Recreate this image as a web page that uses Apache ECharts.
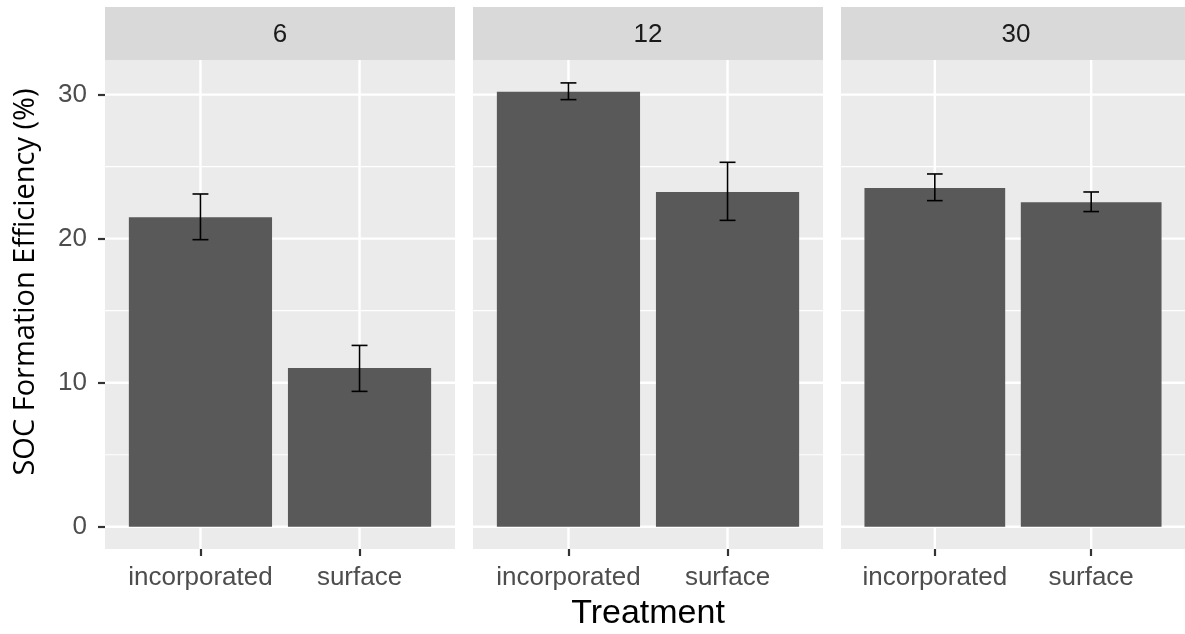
<!DOCTYPE html>
<html>
<head>
<meta charset="utf-8">
<script src="https://cdn.jsdelivr.net/npm/echarts@6/dist/echarts.min.js"></script>
<style>
html,body{margin:0;padding:0;background:#ffffff;}
#chart{width:1185px;height:634px;}
</style>
</head>
<body>
<div id="chart"></div>
<script>
// ---- data ----
const panels = ['6', '12', '30'];
const treatments = ['incorporated', 'surface'];
const meanValues = [[21.48, 11.02], [30.19, 23.24], [23.52, 22.52]];
const errLow = [[19.93, 9.40], [29.65, 21.27], [22.64, 21.88]];
const errHigh = [[23.10, 12.59], [30.81, 25.30], [24.49, 23.24]];
const yTicks = [0, 10, 20, 30];
const yMinorTicks = [5, 15, 25];
const xAxisTitle = 'Treatment';
const yAxisTitle = 'SOC Formation Efficiency (%)';

// ---- layout ----
const panelLefts = [105, 473, 841];
const panelWidth = 350;
const panelTop = 60;
const panelHeight = 489;
const stripTop = 7;
const stripHeight = 53;
const X_MIN = 0.4, X_MAX = 2.6;
const Y_MIN = -1.54, Y_MAX = 32.4;
const xPositions = treatments.map((t, i) => i + 1);

const chart = echarts.init(document.getElementById('chart'), null, {renderer: 'canvas'});

const grids = panelLefts.map(l => ({
  left: l, top: panelTop, width: panelWidth, height: panelHeight,
  show: true, backgroundColor: '#EBEBEB', borderWidth: 0
}));

const xAxes = panelLefts.map((l, i) => ({
  type: 'value', gridIndex: i, min: X_MIN, max: X_MAX, position: 'bottom',
  axisLine: {show: false, onZero: false},
  splitLine: {show: false},
  axisTick: {show: true, customValues: xPositions, length: 7, lineStyle: {color: '#333333', width: 2.2}},
  axisLabel: {
    customValues: xPositions,
    formatter: v => treatments[Math.round(v) - 1] || '',
    color: '#4D4D4D', fontSize: 26, fontFamily: 'Liberation Sans', margin: 16
  }
}));

const yAxes = panelLefts.map((l, i) => ({
  type: 'value', gridIndex: i, min: Y_MIN, max: Y_MAX,
  axisLine: {show: false, onZero: false},
  splitLine: {show: false},
  axisTick: {show: i === 0, customValues: yTicks, length: 7, lineStyle: {color: '#333333', width: 2.2}},
  axisLabel: {
    show: i === 0, customValues: yTicks,
    color: '#4D4D4D', fontSize: 26, fontFamily: 'Liberation Sans', margin: 18
  }
}));

const series = [];
panelLefts.forEach((l, i) => {
  // horizontal gridlines
  const hData = yTicks.map(v => [v, 1]).concat(yMinorTicks.map(v => [v, 0]));
  series.push({
    type: 'custom', xAxisIndex: i, yAxisIndex: i, z: 1, silent: true,
    encode: {y: 0},
    data: hData,
    renderItem: (params, api) => {
      const v = api.value(0);
      const major = api.value(1) === 1;
      const a = api.coord([X_MIN, v]);
      const b = api.coord([X_MAX, v]);
      return {type: 'line', shape: {x1: a[0], y1: a[1], x2: b[0], y2: b[1]},
              style: {stroke: '#FFFFFF', lineWidth: major ? 2.4 : 1.2}};
    }
  });
  // vertical gridlines
  series.push({
    type: 'custom', xAxisIndex: i, yAxisIndex: i, z: 1, silent: true,
    encode: {x: 0},
    data: xPositions.map(x => [x]),
    renderItem: (params, api) => {
      const x = api.value(0);
      const a = api.coord([x, Y_MIN]);
      const b = api.coord([x, Y_MAX]);
      return {type: 'line', shape: {x1: a[0], y1: a[1], x2: b[0], y2: b[1]},
              style: {stroke: '#FFFFFF', lineWidth: 2.4}};
    }
  });
  // bars
  series.push({
    type: 'custom', xAxisIndex: i, yAxisIndex: i, z: 2,
    encode: {x: 0, y: 1},
    data: xPositions.map((x, j) => [x, meanValues[i][j]]),
    renderItem: (params, api) => {
      const x = api.value(0), y = api.value(1);
      const a = api.coord([x - 0.45, y]);
      const b = api.coord([x + 0.45, 0]);
      return {type: 'rect', shape: {x: a[0], y: a[1], width: b[0] - a[0], height: b[1] - a[1]},
              style: {fill: '#595959'}};
    }
  });
  // error bars
  series.push({
    type: 'custom', xAxisIndex: i, yAxisIndex: i, z: 3,
    encode: {x: 0, y: [1, 2]},
    data: xPositions.map((x, j) => [x, errLow[i][j], errHigh[i][j]]),
    renderItem: (params, api) => {
      const x = api.value(0), lo = api.value(1), hi = api.value(2);
      const t = api.coord([x, hi]);
      const bt = api.coord([x, lo]);
      const tl = api.coord([x - 0.05, hi]);
      const tr = api.coord([x + 0.05, hi]);
      const bl = api.coord([x - 0.05, lo]);
      const br = api.coord([x + 0.05, lo]);
      const st = {stroke: '#000000', lineWidth: 1.6};
      return {type: 'group', children: [
        {type: 'line', shape: {x1: t[0], y1: t[1], x2: bt[0], y2: bt[1]}, style: st},
        {type: 'line', shape: {x1: tl[0], y1: tl[1], x2: tr[0], y2: tr[1]}, style: st},
        {type: 'line', shape: {x1: bl[0], y1: bl[1], x2: br[0], y2: br[1]}, style: st}
      ]};
    }
  });
});

const graphics = [];
panelLefts.forEach((l, i) => {
  graphics.push({type: 'rect', left: l, top: stripTop, shape: {width: panelWidth, height: stripHeight},
                 style: {fill: '#D9D9D9'}, silent: true});
  graphics.push({type: 'text', x: l + panelWidth / 2, y: stripTop + stripHeight / 2 + 1,
                 style: {text: panels[i], fill: '#1A1A1A', font: '26px "Liberation Sans"',
                         textAlign: 'center', textVerticalAlign: 'middle'}, silent: true});
});
graphics.push({type: 'text', x: 648, y: 614,
               style: {text: xAxisTitle, fill: '#000000', font: '34px "Liberation Sans"',
                       textAlign: 'center', textVerticalAlign: 'middle'}, silent: true});
graphics.push({type: 'text', x: 26, y: 282, rotation: Math.PI / 2,
               style: {text: yAxisTitle, fill: '#000000', font: '29px "Open Sans"',
                       textAlign: 'center', textVerticalAlign: 'middle'}, silent: true});

chart.setOption({
  animation: false,
  backgroundColor: '#FFFFFF',
  grid: grids,
  xAxis: xAxes,
  yAxis: yAxes,
  series: series,
  graphic: graphics
});
</script>
</body>
</html>
